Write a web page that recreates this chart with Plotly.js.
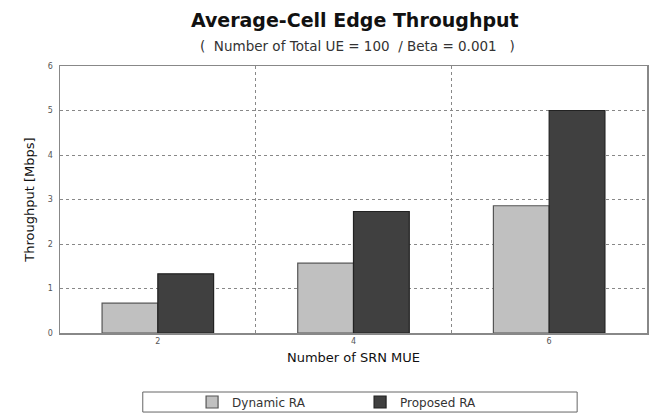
<!DOCTYPE html>
<html><head><meta charset="utf-8">
<script src="https://cdn.plot.ly/plotly-3.0.1.min.js"></script>
<style>html,body{margin:0;padding:0;background:#fff}#chart{width:657px;height:414px}</style>
</head><body><div id="chart"></div>
<script>
const categories = ["2", "4", "6"];
const dynamicRA = [0.67, 1.57, 2.86];
const proposedRA = [1.33, 2.73, 5.0];
const yTicks = [0, 1, 2, 3, 4, 5, 6];

const FONT = "DejaVu Sans, Liberation Sans, sans-serif";

const traces = [
  {type: "bar", name: "Dynamic RA", x: categories, y: dynamicRA,
   marker: {color: "#c0c0c0", line: {color: "#555", width: 1.2}}},
  {type: "bar", name: "Proposed RA", x: categories, y: proposedRA,
   marker: {color: "#404040", line: {color: "#222", width: 1.2}}}
];

const layout = {
  width: 657, height: 414,
  margin: {l: 60, r: 10, t: 66, b: 81},
  paper_bgcolor: "#fff", plot_bgcolor: "#fff",
  font: {family: FONT, color: "#222"},
  barmode: "group", bargap: 0.43, bargroupgap: 0,
  showlegend: true,
  title: {text: "<b>Average-Cell Edge Throughput</b>", font: {size: 19, color: "#111"},
          x: 0.54, xanchor: "center", y: 0.952, yanchor: "middle"},
  xaxis: {type: "category", tickson: "boundaries", ticklen: 0, automargin: false,
          showgrid: true, gridcolor: "#888", griddash: "dot", gridwidth: 1,
          showline: true, linecolor: "#888", linewidth: 1.5, mirror: true,
          tickfont: {size: 8, color: "#555"},
          title: {text: "Number of SRN MUE", font: {size: 13, color: "#111"}, standoff: 8}},
  yaxis: {range: [0, 6], tickvals: yTicks, ticks: "", zeroline: false, automargin: false,
          showgrid: true, gridcolor: "#888", griddash: "dot", gridwidth: 1,
          showline: true, linecolor: "#888", linewidth: 1.5, mirror: true,
          tickfont: {size: 8, color: "#555"}, ticklabelstandoff: 4,
          title: {text: "Throughput [Mbps]", font: {size: 13, color: "#111"}, standoff: 10}},
  legend: {orientation: "h", x: 0.225, xanchor: "left", yref: "container", y: 0.029, yanchor: "middle",
           bgcolor: "rgba(0,0,0,0)", font: {size: 12, color: "#333"},
           entrywidth: 123, itemwidth: 30, traceorder: "normal"},
  shapes: [{type: "rect", xref: "paper", yref: "paper", x0: 0.141, x1: 0.881, y0: -0.296, y1: -0.221,
            line: {color: "#666", width: 1}, fillcolor: "rgba(0,0,0,0)"}],
  annotations: [{text: "(  Number of Total UE = 100  / Beta = 0.001   )", xref: "paper", yref: "paper",
                 x: 0.507, y: 1.075, xanchor: "center", yanchor: "middle", showarrow: false,
                 font: {size: 13.5, color: "#333"}}]
};

Plotly.newPlot("chart", traces, layout, {displayModeBar: false, staticPlot: true});
</script></body></html>
